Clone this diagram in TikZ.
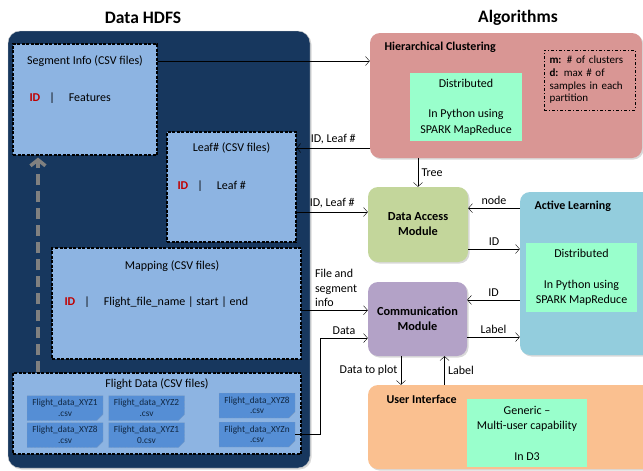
\documentclass[tikz,border=0pt]{standalone}
\usepackage{fontspec}
\setmainfont{Carlito}
\usetikzlibrary{arrows.meta,shapes.misc,shadows}

\definecolor{navy}{RGB}{23,55,94}
\definecolor{csvblue}{RGB}{141,180,226}
\definecolor{fileblue}{RGB}{85,142,213}
\definecolor{hcpink}{RGB}{217,150,148}
\definecolor{mint}{RGB}{153,255,204}
\definecolor{damgreen}{RGB}{195,214,155}
\definecolor{alblue}{RGB}{147,205,221}
\definecolor{commviolet}{RGB}{179,162,199}
\definecolor{uipeach}{RGB}{250,192,144}
\definecolor{idred}{RGB}{192,0,0}

\newcommand\idtag{\textcolor{idred}{\bfseries ID}}

\begin{document}
\begin{tikzpicture}[x=1pt, y=-1pt, font=\fontsize{12}{14.5}\selectfont,
  flow/.style={-{Straight Barb[length=4pt,width=9pt]}},
  boxshadow/.style={drop shadow={opacity=0.3, shadow xshift=1.5pt, shadow yshift=-1.5pt}},
  csvbox/.style={draw=black, fill=csvblue, line width=1.1pt, dash pattern=on 3pt off 1.5pt, inner sep=0pt},
  csvfile/.style={chamfered rectangle, chamfered rectangle corners=south east, chamfered rectangle sep=3pt,
    draw=gray!70, densely dotted, fill=fileblue, minimum width=76, minimum height=25, inner sep=0pt,
    align=center, text=navy!70!black, font=\fontsize{9.3}{10.5}\selectfont},
  module/.style={rounded corners=10pt, boxshadow, inner sep=0pt, align=center, font=\fontsize{12.3}{15}\selectfont\bfseries},
  mintbox/.style={fill=mint, inner sep=0pt, align=center, font=\fontsize{12}{15.3}\selectfont},
  head/.style={anchor=west, font=\fontsize{12}{14}\selectfont\bfseries},
  title/.style={font=\fontsize{17.5}{20}\selectfont\bfseries}]

\useasboundingbox (0,0) rectangle (643,471);

\node[title] (hdfstitle) at (143,18) {Data HDFS};
\node[title] (algtitle) at (518,18) {Algorithms};

% data store
\node[boxshadow, fill=navy, draw=gray!40, rounded corners=12pt, minimum width=302, minimum height=437] (hdfs) at (159,249.5) {};

\node[csvbox, minimum width=144, minimum height=111] (seg) at (85,99.5) {};
\node (segtitle) at (85,61) {Segment Info (CSV files)};
\node[anchor=west] at (26,98) {\idtag\hspace{9pt}|\hspace{14pt}Features};

\node[csvbox, minimum width=129, minimum height=110] (leaf) at (231.5,187) {};
\node (leaftitle) at (231.5,148) {Leaf\# (CSV files)};
\node[anchor=west] at (174,186) {\idtag\hspace{9pt}|\hspace{14pt}Leaf \#};

\node[csvbox, minimum width=249, minimum height=111] (map) at (176.5,303.5) {};
\node at (172,266) {Mapping (CSV files)};
\node[anchor=west] at (61,302) {\idtag\hspace{9pt}|\hspace{14pt}Flight\_file\_name | start | end};

\node[csvbox, minimum width=288, minimum height=81] (flight) at (157,413.5) {};
\node at (157,384) {Flight Data (CSV files)};
\node[csvfile] (f1) at (65,408) {Flight\_data\_XYZ1\\.csv};
\node[csvfile] (f2) at (146.5,408) {Flight\_data\_XYZ2\\.csv};
\node[csvfile] (f3) at (257,405.5) {Flight\_data\_XYZ8\\.csv};
\node[csvfile] (f4) at (65,435) {Flight\_data\_XYZ8\\.csv};
\node[csvfile] (f5) at (146.5,435) {Flight\_data\_XYZ1\\0.csv};
\node[csvfile] (f6) at (257,434.5) {Flight\_data\_XYZn\\.csv};

\draw[gray, line width=3.5pt, dash pattern=on 11pt off 6pt, shorten >=2pt,
  -{Straight Barb[length=6pt, width=15pt, line width=3.5pt]}] (flight.north -| seg.-130) -- (seg.-130);

% algorithms
\node[module, fill=hcpink, minimum width=272, minimum height=125] (hc) at (506,95.5) {};
\node[head] at (381,47) {Hierarchical Clustering};
\node[mintbox, minimum width=112, minimum height=68] (hcdist) at (466,107) {Distributed\\~\\In Python using\\SPARK MapReduce};
\node[draw, line width=0.8pt, dash pattern=on 3pt off 2pt on 1pt off 2pt, text width=80, align=left, inner xsep=5.5,
  minimum height=60, font=\fontsize{11}{12.7}\selectfont] (param) at (589.5,80)
  {\textbf{m:} \# of clusters\\\textbf{d:} max \# of\\samples in each\\partition};

\node[module, fill=damgreen, minimum width=100, minimum height=75] (dam) at (418,224.5) {Data Access\\Module};

\node[module, fill=alblue, minimum width=135, minimum height=163] (al) at (587.5,273.5) {};
\node[head] at (531,206) {Active Learning};
\node[mintbox, minimum width=111, minimum height=69] (aldist) at (581.5,277.5) {Distributed\\~\\In Python using\\SPARK MapReduce};

\node[module, fill=commviolet, minimum width=99, minimum height=74] (comm) at (417.5,319) {Communication\\Module};

\node[module, fill=uipeach, minimum width=287, minimum height=84] (ui) at (511.5,427) {};
\node[head] at (383,399) {User Interface};
\node[mintbox, minimum width=120, minimum height=68] (uigen) at (527,433) {Generic --\\Multi-user capability\\~\\In D3};

% connectors
\draw[flow] (segtitle -| seg.east) -- (segtitle -| hc.west);
\draw[flow] (leaftitle -| hc.west) -- (leaftitle -| leaf.east) node[midway, above] {ID, Leaf \#};
\draw[flow] (dam.166 -| leaf.east) -- (dam.166) node[midway, above] {ID, Leaf \#};
\draw[flow] (hc.south -| dam.north) -- (dam.north) node[midway, right] {Tree};
\draw[flow] (dam.18 -| al.west) -- (dam.18) node[midway, above] {node};
\draw[flow] (dam.-26) -- (dam.-26 -| al.west) node[midway, above] {ID};
\draw[flow] (comm.21 -| al.west) -- (comm.21) node[midway, above] {ID};
\draw[flow] (comm.-20) -- (comm.-20 -| al.west) node[midway, above] {Label};
\draw[flow] (comm.170 -| map.east) -- (comm.170) node[pos=0.15, above right, align=left] {File and\\segment\\info};
\draw[flow] (f6.east) -- ++(25,0) |- (comm.201) node[pos=0.75, above] {Data};
\draw[flow] (comm.-114) -- (comm.-114 |- ui.north) node[midway, left] {Data to plot};
\draw[flow] (ui.north -| comm.-54) -- (comm.-54) node[midway, right] {Label};
\end{tikzpicture}
\end{document}
